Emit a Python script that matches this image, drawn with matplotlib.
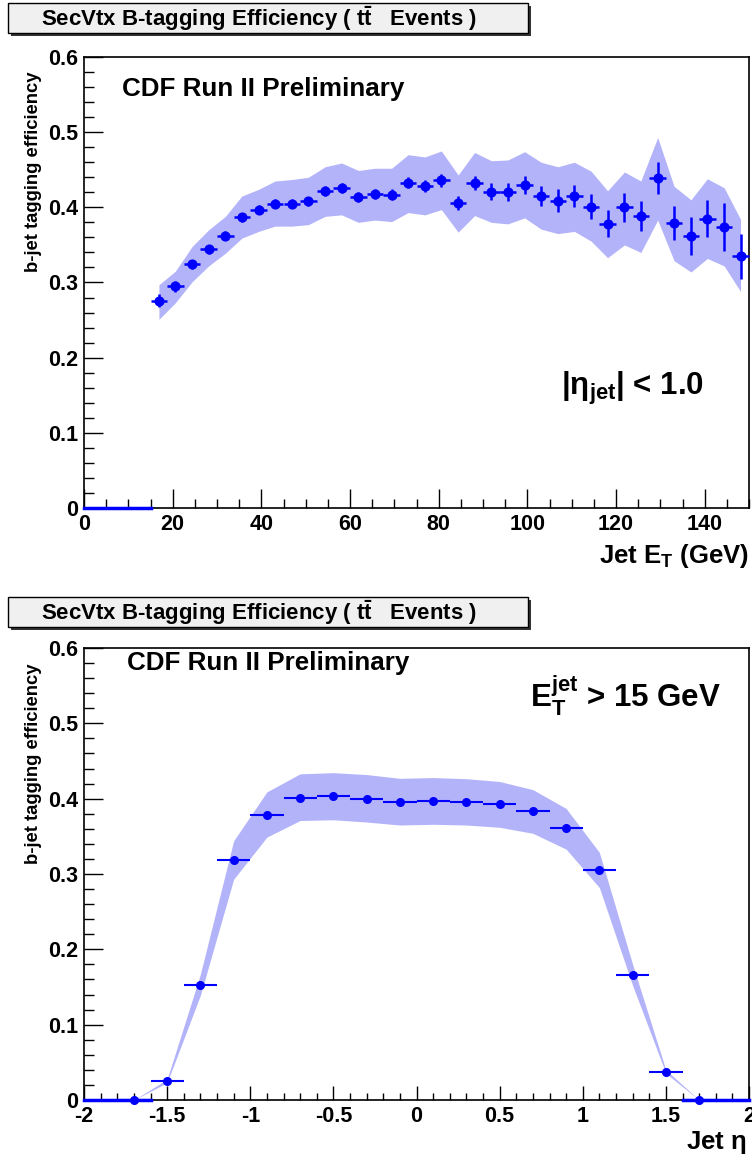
import matplotlib
matplotlib.use("Agg")
import matplotlib.pyplot as plt
from matplotlib.patches import Rectangle
from matplotlib.ticker import MultipleLocator, FuncFormatter

# ---- top panel: efficiency vs jet E_T, |eta| < 1.0 ----
et_centers = [16.9, 20.6, 24.4, 28.1, 31.9, 35.6, 39.4, 43.1, 46.9, 50.6,
              54.4, 58.1, 61.9, 65.6, 69.4, 73.1, 76.9, 80.6, 84.4, 88.1,
              91.9, 95.6, 99.4, 103.1, 106.9, 110.6, 114.4, 118.1, 121.9, 125.6,
              129.4, 133.1, 136.9, 140.6, 144.4, 148.1]
et_halfwidth = 1.875
et_eff = [0.276, 0.295, 0.324, 0.344, 0.362, 0.387, 0.397, 0.405, 0.405, 0.408,
          0.422, 0.426, 0.414, 0.418, 0.417, 0.433, 0.429, 0.436, 0.406, 0.432,
          0.421, 0.421, 0.430, 0.415, 0.409, 0.415, 0.401, 0.378, 0.400, 0.388,
          0.439, 0.379, 0.362, 0.385, 0.374, 0.335]
et_err = [0.009, 0.007, 0.006, 0.006, 0.006, 0.006, 0.006, 0.006, 0.006, 0.006,
          0.007, 0.007, 0.007, 0.007, 0.007, 0.0075, 0.008, 0.009, 0.009, 0.0095,
          0.011, 0.012, 0.012, 0.013, 0.015, 0.015, 0.017, 0.018, 0.019, 0.020,
          0.021, 0.023, 0.025, 0.025, 0.032, 0.030]
et_band_hi = [0.297, 0.315, 0.348, 0.370, 0.388, 0.415, 0.424, 0.435, 0.437, 0.440,
              0.454, 0.459, 0.449, 0.452, 0.452, 0.470, 0.467, 0.475, 0.443, 0.473,
              0.462, 0.463, 0.474, 0.460, 0.454, 0.460, 0.448, 0.422, 0.447, 0.435,
              0.493, 0.428, 0.410, 0.438, 0.426, 0.384]
et_band_lo = [0.251, 0.273, 0.301, 0.322, 0.339, 0.359, 0.368, 0.375, 0.375, 0.377,
              0.388, 0.390, 0.380, 0.383, 0.381, 0.393, 0.390, 0.397, 0.367, 0.389,
              0.380, 0.378, 0.386, 0.371, 0.365, 0.368, 0.355, 0.333, 0.350, 0.340,
              0.383, 0.329, 0.314, 0.332, 0.322, 0.288]
et_zero_ranges = [(0, 15)]

# ---- bottom panel: efficiency vs jet eta, E_T > 15 GeV ----
eta_centers = [-1.7, -1.5, -1.3, -1.1, -0.9, -0.7, -0.5, -0.3, -0.1,
               0.1, 0.3, 0.5, 0.7, 0.9, 1.1, 1.3, 1.5, 1.7]
eta_halfwidth = 0.1
eta_eff = [0.0, 0.025, 0.1525, 0.318, 0.378, 0.401, 0.4035, 0.400, 0.3955,
           0.397, 0.396, 0.3926, 0.383, 0.3607, 0.3047, 0.1657, 0.0378, 0.0]
eta_band_hi = [0.0, 0.0275, 0.167, 0.344, 0.409, 0.433, 0.4345, 0.432, 0.427,
               0.428, 0.4265, 0.4228, 0.412, 0.387, 0.3286, 0.180, 0.040, 0.0]
eta_band_lo = [0.0, 0.023, 0.139, 0.293, 0.349, 0.371, 0.372, 0.369, 0.365,
               0.366, 0.365, 0.362, 0.354, 0.333, 0.282, 0.152, 0.0355, 0.0]
eta_zero_ranges = [(-2.0, -1.6), (1.6, 2.0)]

title = r"SecVtx B-tagging Efficiency ( $\mathbf{t\bar{t}}$   Events )"
ylabel = "b-jet tagging efficiency"

plt.rcParams["font.family"] = "Liberation Sans"
plt.rcParams["font.weight"] = "bold"
plt.rcParams["mathtext.fontset"] = "custom"
plt.rcParams["mathtext.rm"] = "Liberation Sans:bold"
plt.rcParams["mathtext.bf"] = "Liberation Sans:bold"
plt.rcParams["mathtext.it"] = "Liberation Sans:bold"
plt.rcParams["mathtext.sf"] = "Liberation Sans"

W, H = 752, 1160
fig = plt.figure(figsize=(W / 100, H / 100), dpi=100)

band_color = "#b3b3fa"


def fx(px):
    return px / W


def fy(py):
    return 1 - py / H


def title_box(y_top):
    x0, x1, y0, y1 = 8, 528, y_top, y_top + 30
    shadow = Rectangle((fx(x0 + 3), fy(y1 + 3)), (x1 - x0) / W, (y1 - y0) / H,
                       transform=fig.transFigure, facecolor="#333333", edgecolor="none")
    box = Rectangle((fx(x0), fy(y1)), (x1 - x0) / W, (y1 - y0) / H,
                    transform=fig.transFigure, facecolor="#f0f0f0",
                    edgecolor="black", linewidth=1)
    fig.patches.extend([shadow, box])
    fig.text(fx(259), fy((y0 + y1) / 2 + 1), title, ha="center",
             va="center", fontsize=16)


def style_axes(ax, xlim, xmajor, xminor, xlen, fmt):
    ax.set_xlim(*xlim)
    ax.set_ylim(0, 0.6)
    ax.xaxis.set_major_locator(MultipleLocator(xmajor))
    ax.xaxis.set_minor_locator(MultipleLocator(xminor))
    ax.yaxis.set_major_locator(MultipleLocator(0.1))
    ax.yaxis.set_minor_locator(MultipleLocator(0.02))
    ax.xaxis.set_major_formatter(FuncFormatter(fmt))
    ax.yaxis.set_major_formatter(FuncFormatter(lambda v, _: "0" if abs(v) < 1e-9 else f"{v:.1f}"))
    ax.tick_params(which="both", direction="in", top=False, right=False,
                   labelsize=15.5, width=1)
    ax.tick_params(axis="y", which="major", length=13.5, pad=4)
    ax.tick_params(axis="y", which="minor", length=7)
    ax.tick_params(axis="x", which="major", length=xlen, pad=4)
    ax.tick_params(axis="x", which="minor", length=xlen / 2)
    for s in ax.spines.values():
        s.set_linewidth(1.2)


def draw_panel(ax, x, eff, xerr, yerr, lo, hi, zeros, ms, elw):
    ax.fill_between(x, lo, hi, color=band_color, linewidth=0, zorder=1)
    for a, b in zeros:
        ax.plot([a, b], [0, 0], color="blue", linewidth=2.5, clip_on=False, zorder=4)
    ax.errorbar(x, eff, xerr=xerr, yerr=yerr, fmt="o", color="blue",
                markersize=ms, elinewidth=elw, capsize=0, zorder=3, clip_on=False)


# ---- top panel ----
ax1 = fig.add_axes([fx(84), fy(508), (749 - 84) / W, (508 - 57) / H])
draw_panel(ax1, et_centers, et_eff, et_halfwidth, et_err, et_band_lo, et_band_hi,
           et_zero_ranges, 6.3, 1.8)
style_axes(ax1, (0, 150), 20, 5, 13.5, lambda v, _: f"{v:g}")
title_box(3)
fig.text(fx(122), fy(96), "CDF Run II Preliminary", fontsize=18.7, va="baseline")
fig.text(fx(561), fy(395), r"$|\mathsf{\eta}_{\mathbf{jet}}|$ < 1.0",
         fontsize=22.5, va="baseline")
fig.text(fx(749), fy(556), r"Jet $\mathbf{E}_{\mathbf{T}}$ (GeV)", fontsize=18.5,
         ha="right", va="center")
fig.text(fx(34), fy(72), ylabel, rotation=90, ha="center", va="top", fontsize=13.3)

# ---- bottom panel ----
ax2 = fig.add_axes([fx(84), fy(1100), (749 - 84) / W, (1100 - 648) / H])
draw_panel(ax2, eta_centers, eta_eff, eta_halfwidth, None, eta_band_lo, eta_band_hi,
           eta_zero_ranges, 5.5, 1.5)
style_axes(ax2, (-2, 2), 0.5, 0.1, 10, lambda v, _: f"{v:g}")
title_box(597)
fig.text(fx(127), fy(670), "CDF Run II Preliminary", fontsize=18.7, va="baseline")
fig.text(fx(530), fy(707), r"$\mathbf{E}_{\mathbf{T}}^{\mathbf{jet}}$ > 15 GeV",
         fontsize=22.5, va="baseline")
fig.text(fx(746), fy(1143), r"Jet $\mathsf{\eta}$", fontsize=18.5, ha="right", va="center")
fig.text(fx(34), fy(663), ylabel, rotation=90, ha="center", va="top", fontsize=13.3)

fig.savefig("out.png", dpi=100)
